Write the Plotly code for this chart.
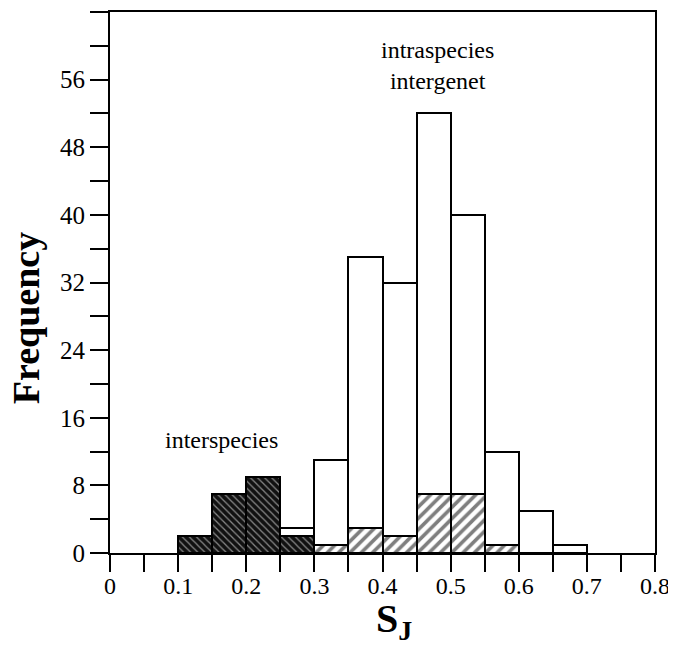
import plotly.graph_objects as go

bin_width = 0.05
total_x = [0.125, 0.175, 0.225, 0.275, 0.325, 0.375, 0.425, 0.475, 0.525, 0.575, 0.625, 0.675]
total_y = [2, 7, 9, 3, 11, 35, 32, 52, 40, 12, 5, 1]
inter_x = [0.125, 0.175, 0.225, 0.275]
inter_y = [2, 7, 9, 2]
intra_x = [0.325, 0.375, 0.425, 0.475, 0.525, 0.575]
intra_y = [1, 3, 2, 7, 7, 1]

x_tickvals = [round(i * 0.05, 2) for i in range(17)]
x_ticktext = ["0", "", "0.1", "", "0.2", "", "0.3", "", "0.4", "", "0.5", "", "0.6", "", "0.7", "", "0.8"]
y_tickvals = list(range(0, 65, 4))
y_ticktext = [str(v) if v % 8 == 0 and v < 64 else "" for v in y_tickvals]

FONT = "Liberation Serif, Times New Roman, Times, serif"

fig = go.Figure()
fig.add_trace(go.Bar(x=total_x, y=total_y, width=bin_width,
                     marker=dict(color="white", line=dict(color="black", width=2)),
                     showlegend=False))
fig.add_trace(go.Bar(x=inter_x, y=inter_y, width=bin_width,
                     marker=dict(color="black", line=dict(color="black", width=2),
                                 pattern=dict(shape="\\", bgcolor="#111111", fgcolor="white",
                                              size=5, solidity=0.25)),
                     showlegend=False))
fig.add_trace(go.Bar(x=intra_x, y=intra_y, width=bin_width,
                     marker=dict(color="white", line=dict(color="black", width=2),
                                 pattern=dict(shape="/", bgcolor="white", fgcolor="black",
                                              size=8, solidity=0.45)),
                     showlegend=False))

fig.add_annotation(x=0.164, y=13.4, text="interspecies", showarrow=False,
                   font=dict(family=FONT, size=24, color="black"))
fig.add_annotation(x=0.48, y=57.7, text="intraspecies<br>intergenet", showarrow=False,
                   font=dict(family=FONT, size=24, color="black"))
fig.add_annotation(x=0.522, y=0, xref="paper", yref="paper", yanchor="middle",
                   yshift=-68, text="<b>S<sub>J</sub></b>", showarrow=False,
                   font=dict(family=FONT, size=40, color="black"))
fig.add_annotation(x=0, y=0.434, xref="paper", yref="paper", xanchor="center", yanchor="middle",
                   xshift=-84, textangle=-90, text="<b>Frequency</b>", showarrow=False,
                   font=dict(family=FONT, size=38, color="black"))

# page body has an 8px margin, so the figure is 8px smaller and margins shifted
fig.update_layout(
    width=668, height=637,
    margin=dict(l=102, r=21, t=4, b=92),
    paper_bgcolor="white", plot_bgcolor="white",
    barmode="overlay", bargap=0,
    font=dict(family=FONT, size=24, color="black"),
)
fig.update_xaxes(range=[0, 0.8], tickmode="array", tickvals=x_tickvals, ticktext=x_ticktext,
                 ticks="outside", ticklen=17, tickwidth=2, tickcolor="black",
                 showline=True, linecolor="black", linewidth=2, mirror=True,
                 showgrid=False, zeroline=False, automargin=False,
                 ticklabelstandoff=-7,
                 tickfont=dict(family=FONT, size=24))
fig.update_yaxes(range=[0, 64], tickmode="array", tickvals=y_tickvals, ticktext=y_ticktext,
                 ticks="outside", ticklen=18, tickwidth=2, tickcolor="black",
                 showline=True, linecolor="black", linewidth=2, mirror=True,
                 showgrid=False, zeroline=False, automargin=False,
                 tickfont=dict(family=FONT, size=25))

fig.write_html("out.html")
